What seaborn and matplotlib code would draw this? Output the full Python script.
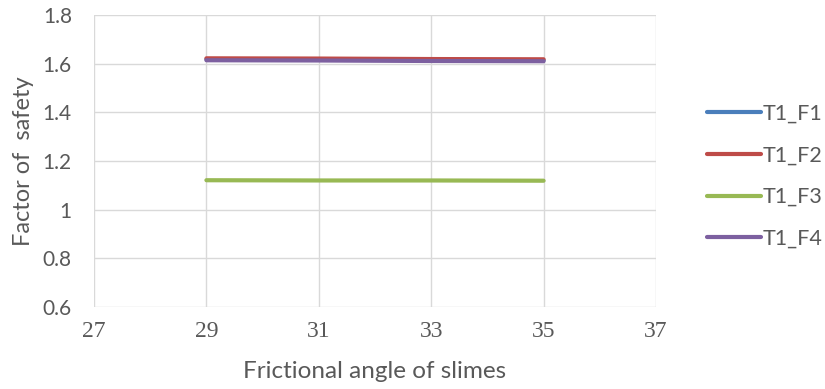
import matplotlib
matplotlib.use("Agg")
import matplotlib.pyplot as plt
import seaborn as sns
import pandas as pd

# Frictional angle of slimes (degrees) and factor of safety for each case
angles = [29, 31, 33, 35]
t1_f1 = [1.618, 1.617, 1.615, 1.614]
t1_f2 = [1.622, 1.621, 1.619, 1.618]
t1_f3 = [1.121, 1.120, 1.120, 1.119]
t1_f4 = [1.614, 1.613, 1.611, 1.610]
series_names = ["T1_F1", "T1_F2", "T1_F3", "T1_F4"]
colors = ["#4a7ebb", "#be4b48", "#98b954", "#7d60a0"]
x_ticks = [27, 29, 31, 33, 35, 37]
y_ticks = [0.6, 0.8, 1.0, 1.2, 1.4, 1.6, 1.8]
y_tick_labels = ["0.6", "0.8", "1", "1.2", "1.4", "1.6", "1.8"]

df = pd.DataFrame({
    "angle": angles * 4,
    "fos": t1_f1 + t1_f2 + t1_f3 + t1_f4,
    "series": sum([[n] * len(angles) for n in series_names], []),
})

sns.set_theme(style="white")
text_color = "#595959"
grid_color = "#d9d9d9"
sans = "Lato"

fig = plt.figure(figsize=(8.25, 3.89), dpi=100)
ax = fig.add_axes([94 / 825, 1 - 307 / 389, (656 - 94) / 825, (307 - 15) / 389])

sns.lineplot(data=df, x="angle", y="fos", hue="series", palette=colors,
             hue_order=series_names, linewidth=3, ax=ax, legend=False,
             solid_capstyle="round")

ax.set_xlim(27, 37)
ax.set_ylim(0.6, 1.8)
ax.set_xticks(x_ticks)
ax.set_yticks(y_ticks)
ax.set_xticklabels([str(t) for t in x_ticks], family="Liberation Serif",
                   fontsize=17, color=text_color)
ax.set_yticklabels(y_tick_labels, family=sans, fontsize=15,
                   color=text_color)
ax.tick_params(axis="both", length=0)
ax.tick_params(axis="x", pad=10)
ax.tick_params(axis="y", pad=16)

ax.grid(True, color=grid_color, linewidth=1)
ax.set_axisbelow(True)
for s in ax.spines.values():
    s.set_visible(False)

ax.set_xlabel("Frictional angle of slimes", family=sans, fontsize=17.5,
              color=text_color, labelpad=14)
ax.set_ylabel("Factor of  safety", family=sans, fontsize=17,
              color=text_color, labelpad=6)

handles = [plt.Line2D([], [], color=c, linewidth=3, solid_capstyle="round")
           for c in colors]
leg = fig.legend(handles, series_names, loc="upper left",
                 bbox_to_anchor=(707 / 825, 1 - 104 / 389), frameon=False,
                 prop={"family": sans, "size": 15.5},
                 borderpad=0, borderaxespad=0,
                 handlelength=2.5, handletextpad=0.1, labelspacing=1.0)
for t in leg.get_texts():
    t.set_color(text_color)

fig.savefig("out.png", dpi=100)
